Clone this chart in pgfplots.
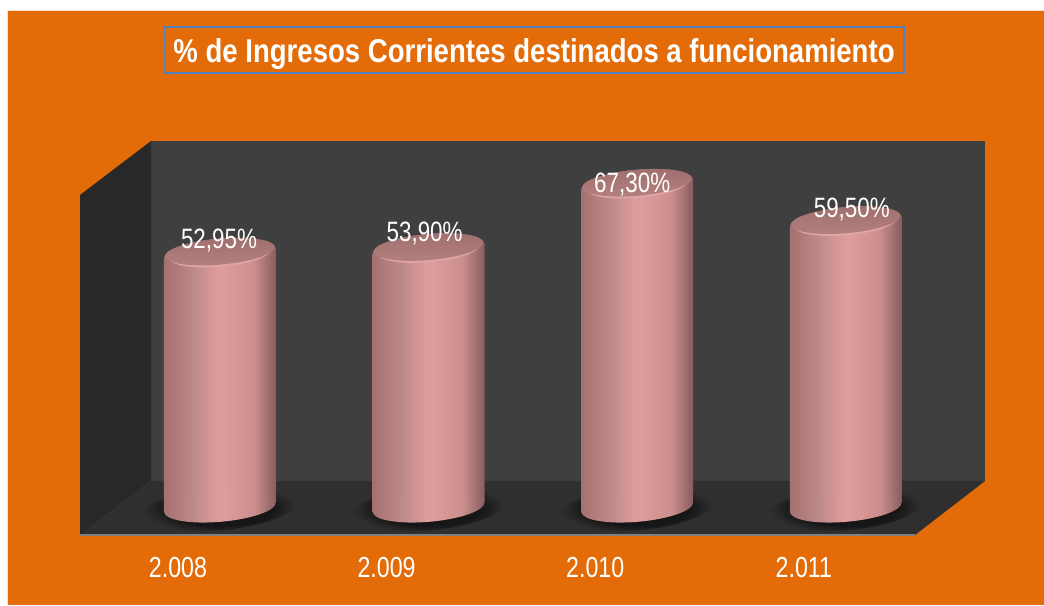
\documentclass[border=0pt]{standalone}
\usepackage{pgfplots}
\usepackage{pgfplotstable}
\usepackage{fontspec}
\pgfplotsset{compat=1.18}
\setmainfont{Liberation Sans}
\newfontfamily\labelfont[FakeStretch=0.80]{Liberation Sans}
\newfontfamily\titlefont[FakeStretch=0.835]{Liberation Sans}
\definecolor{pageorange}{HTML}{E36C09}
\definecolor{wallback}{HTML}{3F3F3F}
\definecolor{wallleft}{HTML}{282828}
\definecolor{wallfloor}{HTML}{2F2F2F}
\definecolor{shadowdark}{HTML}{161616}
\definecolor{cylA}{HTML}{A57170}
\definecolor{cylB}{HTML}{BC8988}
\definecolor{cylC}{HTML}{DD9B9B}
\definecolor{cylD}{HTML}{CB8F8E}
\definecolor{cylE}{HTML}{865D5C}
\definecolor{faceA}{HTML}{9F6E6D}
\definecolor{faceB}{HTML}{B48180}
\definecolor{rim}{HTML}{E0A5A4}
\definecolor{boxblue}{HTML}{4F81BD}
\pgfdeclarehorizontalshading{cyl}{100bp}{color(0bp)=(cylA); color(25bp)=(cylA); color(37.5bp)=(cylB); color(48.5bp)=(cylC); color(52.5bp)=(cylC); color(65bp)=(cylD); color(75bp)=(cylE); color(100bp)=(cylE)}
\pgfdeclareverticalshading{cylface}{100bp}{color(0bp)=(faceB); color(25bp)=(faceB); color(75bp)=(faceA); color(100bp)=(faceA)}
\pgfdeclareradialshading{floorshadow}{\pgfpointorigin}{color(0bp)=(shadowdark); color(17bp)=(shadowdark); color(25bp)=(wallfloor); color(50bp)=(wallfloor)}
\pgfdeclareplotmark{cylshadow}{%
  \pgftransformrotate{5}%
  \pgfpathellipse{\pgfpoint{0pt}{-1pt}}{\pgfpoint{76pt}{0pt}}{\pgfpoint{0pt}{22pt}}%
  \pgfshadepath{floorshadow}{0}\pgfusepath{discard}}
\pgfdeclareplotmark{cylbase}{%
  \pgftransformrotate{5}%
  \pgfpathellipse{\pgfpointorigin}{\pgfpoint{56pt}{0pt}}{\pgfpoint{0pt}{14.5pt}}%
  \pgfshadepath{cyl}{0}\pgfusepath{discard}}
\pgfdeclareplotmark{cyltop}{%
  \pgftransformrotate{5}%
  \pgfpathellipse{\pgfpointorigin}{\pgfpoint{56pt}{0pt}}{\pgfpoint{0pt}{14.5pt}}%
  \pgfshadepath{cyl}{0}\pgfusepath{discard}%
  \pgfsetfillcolor{rim}%
  \pgfpathellipse{\pgfpointorigin}{\pgfpoint{52pt}{0pt}}{\pgfpoint{0pt}{13.6pt}}%
  \pgfusepathqfill
  \pgfpathellipse{\pgfpoint{0pt}{1.5pt}}{\pgfpoint{55pt}{0pt}}{\pgfpoint{0pt}{13pt}}%
  \pgfshadepath{cylface}{0}\pgfusepath{discard}}
\pgfplotstableread{
x y dx dy
0 52.95 -1 -1
1 53.90 -4 1
2 67.30 -5 -14
3 59.50 6 -2
}\cyldata
\pgfplotstableread{
x y
0 0
1 0
2 0
3 0
}\cylbasedata
\pgfplotsset{cylaxis/.style={
  at={(0pt,70pt)}, anchor=south west,
  width=1044pt, height=535pt, scale only axis,
  xmin=-1.05465, xmax=3.95014, ymin=-5.7708, ymax=105.6875,
  clip=false,
  axis line style={draw=none},
  major tick length=0pt,
  ytick=\empty,
}}
\begin{document}
\begin{tikzpicture}[x=1pt,y=1pt]
\path[use as bounding box] (0,0) rectangle (1044,605);
\fill[white] (0,0) rectangle (1044,605);
\begin{scope}[shift={(0,605)},y=-1pt]
\fill[pageorange] (8,11) rectangle (1044,605);
\draw[color=pageorange!20!white,line width=1pt] (7.5,605) -- (7.5,10.5) -- (1044,10.5);
\fill[wallback] (151,141) rectangle (985,481);
\fill[wallleft] (80,195) -- (151,141) -- (151,481) -- (80,535) -- cycle;
\fill[wallfloor] (80,535) -- (151,481) -- (985,481) -- (915,535) -- cycle;
\draw[gray,line width=1.2pt] (80,535) -- (915,535);
\end{scope}
\begin{axis}[cylaxis, xtick=\empty]
\addplot[only marks, mark=cylshadow] table[x=x,y=y] {\cylbasedata};
\end{axis}
\begin{axis}[cylaxis,
  xtick={0,1,2,3},
  xticklabels={2.008,2.009,2.010,2.011},
  xticklabel style={font=\labelfont\fontsize{29}{34}\selectfont, text=white, xshift=-42pt, yshift=-19pt},
  title={\% de Ingresos Corrientes destinados a funcionamiento},
  title style={at={(0.5115,0.8953)}, anchor=center, font=\titlefont\bfseries\fontsize{33}{38}\selectfont,
    text=white, draw=boxblue, line width=1.8pt, inner sep=0pt,
    text height=36pt, text depth=10.5pt, inner xsep=9pt},
]
\addplot[draw=none, shading=cyl] coordinates {(-0.2685,-1.05) (0.2685,1.05) (0.2685,54.00) (-0.2685,51.90)};
\addplot[draw=none, shading=cyl] coordinates {(0.7315,-1.05) (1.2685,1.05) (1.2685,54.95) (0.7315,52.85)};
\addplot[draw=none, shading=cyl] coordinates {(1.7315,-1.05) (2.2685,1.05) (2.2685,68.35) (1.7315,66.25)};
\addplot[draw=none, shading=cyl] coordinates {(2.7315,-1.05) (3.2685,1.05) (3.2685,60.55) (2.7315,58.45)};
\addplot[only marks, mark=cylbase] table[x=x,y=y] {\cylbasedata};
\addplot[only marks, mark=cyltop,
  visualization depends on={\thisrow{dx}\as\labdx},
  visualization depends on={\thisrow{dy}\as\labdy},
  point meta=explicit,
  nodes near coords={\pgfmathprintnumber[use comma,fixed,fixed zerofill,precision=2,assume math mode=true]{\pgfplotspointmeta}\%},
  nodes near coords align={anchor=center},
  every node near coord/.append style={text=white, font=\labelfont\fontsize{28}{32}\selectfont, xshift=\labdx pt, yshift=14pt+\labdy pt, inner sep=0pt},
] table[x=x,y=y,meta=y] {\cyldata};
\end{axis}
\end{tikzpicture}
\end{document}
